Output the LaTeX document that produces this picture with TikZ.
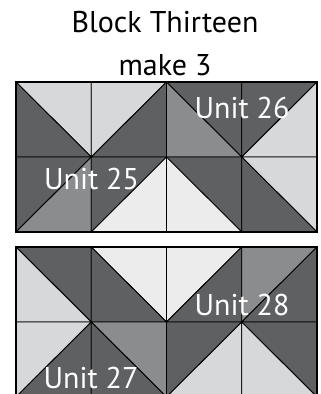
\documentclass[tikz,border=0pt]{standalone}
\usepackage{fontspec}
\setmainfont{PT Sans}
\usepackage{tikz}
\definecolor{dk}{HTML}{5F6062}
\definecolor{md}{HTML}{8A8C8E}
\definecolor{lt}{HTML}{D7D8DA}
\definecolor{vl}{HTML}{ECECEC}

\begin{document}
\begin{tikzpicture}[
  x=75.25pt, y=-75pt,
  patch/.style={draw=black, line width=0.9pt, line join=round},
  edge/.style={draw=black, line width=1.3pt},
  title/.style={font=\fontsize{30}{34}\selectfont, anchor=base, inner sep=0pt},
  unit/.style={font=\fontsize{30}{34}\selectfont, text=white, anchor=base, inner sep=0pt}
]
\useasboundingbox (-16pt,82pt) rectangle (305pt,-312pt);
\node[title] (head) at (149pt,50pt) {Block Thirteen};
\node[title] (make) at (149pt,7pt) {make 3};
% a: diagonal top-left to bottom-right, b: bottom-left to top-right
\foreach \c/\r/\t/\p/\q in {0/0/a/lt/dk, 1/0/b/lt/dk, 0/1/b/dk/md, 1/1/b/dk/vl,
    2/0/a/dk/md, 3/0/b/dk/lt, 2/1/a/dk/vl, 3/1/a/lt/dk,
    0/2.2/a/dk/lt, 1/2.2/a/vl/dk, 0/3.2/b/lt/dk, 1/3.2/a/md/dk,
    2/2.2/b/vl/dk, 3/2.2/b/md/dk, 2/3.2/b/dk/lt, 3/3.2/a/dk/lt}{
  \if\t a
    \path[patch, fill=\p] (\c,\r) -- (\c+1,\r) -- (\c+1,\r+1) -- cycle;
    \path[patch, fill=\q] (\c,\r) -- (\c+1,\r+1) -- (\c,\r+1) -- cycle;
  \else
    \path[patch, fill=\p] (\c,\r) -- (\c+1,\r) -- (\c,\r+1) -- cycle;
    \path[patch, fill=\q] (\c+1,\r) -- (\c+1,\r+1) -- (\c,\r+1) -- cycle;
  \fi
}
\path[edge] (0,0) rectangle (4,2);
\path[edge] (0,2.2) rectangle (4,4.2);
\node[unit] (u25) at (75.5pt,-107pt) {Unit 25};
\node[unit] (u26) at (226pt,-36pt) {Unit 26};
\node[unit] (u27) at (75pt,-306pt) {Unit 27};
\node[unit] (u28) at (226pt,-233pt) {Unit 28};
\end{tikzpicture}
\end{document}
